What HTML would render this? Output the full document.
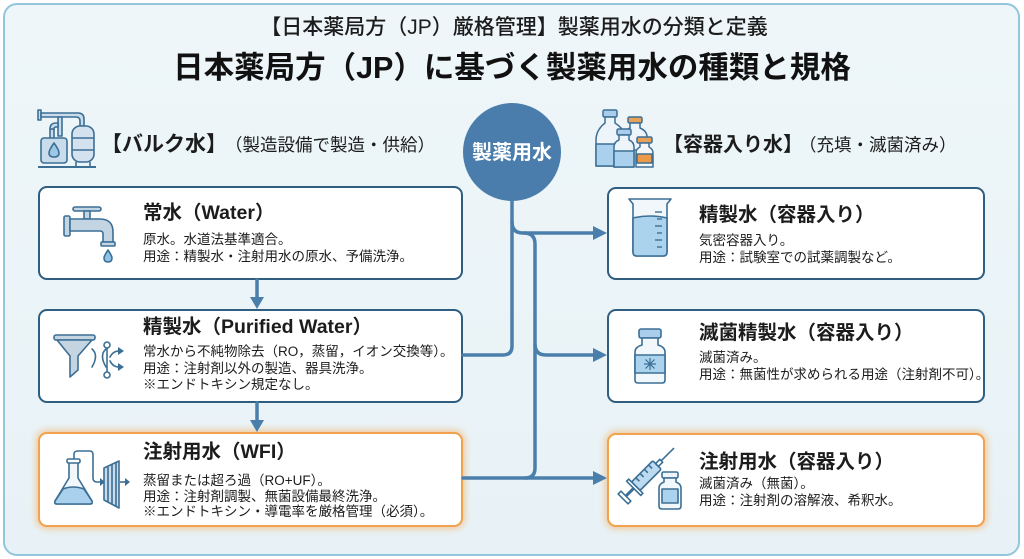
<!DOCTYPE html>
<html lang="ja">
<head>
<meta charset="utf-8">
<style>
  html,body{margin:0;padding:0;}
  body{width:1024px;height:559px;position:relative;overflow:hidden;background:#ffffff;
       font-family:"Liberation Sans","Noto Sans CJK JP",sans-serif;color:#1c1c1c;}
  .panel{position:absolute;left:3px;top:3px;width:1013px;height:549px;border:2.5px solid #93c5dc;border-radius:14px;
         background:linear-gradient(180deg,#eef6f9 0%,#e8f2f6 100%);}
  .box{position:absolute;background:#ffffff;border:2px solid #2f5e80;border-radius:9px;box-sizing:border-box;}
  .box.or{border:2.5px solid #f0a24e;box-shadow:0 0 7px 2px rgba(246,166,80,0.55);}
  .t{position:absolute;white-space:nowrap;}
  .title{font-size:19.5px;font-weight:700;line-height:24px;}
  .body{font-size:13.5px;line-height:16.5px;}
</style>
</head>
<body>
<div class="panel"></div>

<!-- boxes -->
<div class="box" style="left:38px;top:186px;width:425px;height:94px;"></div>
<div class="box" style="left:38px;top:309px;width:425px;height:94px;"></div>
<div class="box or" style="left:38px;top:432px;width:425px;height:95px;"></div>
<div class="box" style="left:607px;top:187px;width:378px;height:93px;"></div>
<div class="box" style="left:607px;top:309px;width:378px;height:94px;"></div>
<div class="box or" style="left:607px;top:433px;width:378px;height:94px;"></div>

<svg width="1024" height="559" style="position:absolute;left:0;top:0;" xmlns="http://www.w3.org/2000/svg">
  <!-- circle -->
  <circle cx="512" cy="152" r="49" fill="#4a7dab"/>
  <!-- connectors -->
  <g stroke="#4b7fab" stroke-width="3.5" fill="none" stroke-linecap="round">
    <path d="M512 198 L512 346 Q512 355 503 355 L463 355"/>
    <path d="M512 222 Q512 233 523 233 L596 233"/>
    <path d="M524 233 Q535 233 535 244 L535 468 Q535 478 525 478"/>
    <path d="M463 478 L596 478"/>
    <path d="M535 344 Q535 355 546 355 L596 355"/>
    <path d="M257 280 L257 298"/>
    <path d="M257 403 L257 421"/>
  </g>
  <g fill="#4b7fab">
    <polygon points="593,226 607,233 593,240"/>
    <polygon points="593,348 607,355 593,362"/>
    <polygon points="593,471 607,478 593,485"/>
    <polygon points="250,297 264,297 257,309"/>
    <polygon points="250,420 264,420 257,432"/>
  </g>

  <!-- bulk icon -->
  <g stroke="#3c6f95" stroke-width="1.6" fill="#c9dceb" stroke-linejoin="round">
    <rect x="38" y="110" width="3" height="10" fill="#c9dceb"/>
    <path d="M41 113 L78 113 Q84 113 84 119 L84 126 L80 126 L80 121 Q80 117 76 117 L41 117 Z"/>
    <path d="M58 117 L62 117 L62 136 L58 136 Z"/>
    <path d="M50 129 L54 129 L54 140 L50 140 Z"/>
    <path d="M50 129 Q50 123 56 123 L58 123 L58 127 L56 127 Q54 127 54 129 Z"/>
    <rect x="41" y="138" width="26" height="25" rx="3"/>
    <rect x="72" y="126" width="22" height="36" rx="8" fill="#d3e2ee"/>
    <line x1="72" y1="138" x2="94" y2="138"/>
    <line x1="72" y1="150" x2="94" y2="150"/>
    <line x1="76" y1="162" x2="76" y2="167"/>
    <line x1="90" y1="162" x2="90" y2="167"/>
    <line x1="38" y1="167" x2="96" y2="167" stroke-width="2"/>
    <path d="M54 143 Q49 150 49 153 Q49 157 54 157 Q59 157 59 153 Q59 150 54 143 Z" fill="#9cc8e6"/>
  </g>

  <!-- bottles icon -->
  <g stroke="#3c6f95" stroke-width="1.5" stroke-linejoin="round">
    <!-- back bottle with orange cap -->
    <rect x="628" y="117" width="14" height="6" rx="1.5" fill="#e9a15a"/>
    <path d="M630 123 L640 123 L640 128 Q647 131 647 137 L647 150 L623 150 L623 137 Q623 131 630 128 Z" fill="#eef5fa"/>
    <!-- big bottle -->
    <rect x="603" y="110" width="14" height="7" rx="1.5" fill="#a9cdea"/>
    <path d="M605 117 L615 117 L615 123 Q626 130 626 140 L626 166 L596 166 L596 140 Q596 130 605 123 Z" fill="#eef5fa"/>
    <path d="M596 144 L626 144 L626 166 L596 166 Z" fill="#a9d0ec"/>
    <!-- small front vial -->
    <rect x="617" y="129" width="14" height="6" rx="1.5" fill="#a9cdea"/>
    <path d="M619 135 L629 135 L629 140 Q634 142 634 147 L634 167 L614 167 L614 147 Q614 142 619 140 Z" fill="#eef5fa"/>
    <path d="M614 151 L634 151 L634 167 L614 167 Z" fill="#a9d0ec"/>
    <!-- orange vial -->
    <rect x="637" y="137" width="15" height="6" rx="1.5" fill="#e9a15a"/>
    <path d="M640 143 L649 143 L649 147 Q653 149 653 153 L653 167 L636 167 L636 153 Q636 149 640 147 Z" fill="#f4f6f8"/>
    <rect x="637" y="154" width="15" height="9" fill="#ec9a4a"/>
  </g>

  <!-- faucet -->
  <g stroke="#3c6f95" stroke-width="1.6" fill="#c3d4e2" stroke-linejoin="round">
    <rect x="73" y="207" width="28" height="4" rx="2"/>
    <rect x="84" y="211" width="6" height="8"/>
    <rect x="64" y="216" width="6" height="20" rx="1.5"/>
    <path d="M70 219 L100 219 Q113 219 113 232 L113 242 L103 242 L103 234 Q103 231 100 231 L70 231 Z"/>
    <rect x="101" y="242" width="14" height="4" rx="1"/>
    <path d="M108 250 Q104 256 104 258 Q104 262 108 262 Q112 262 112 258 Q112 256 108 250 Z" fill="#8fc2e6"/>
  </g>

  <!-- funnel + filter symbol -->
  <g stroke="#3c6f95" stroke-width="1.6" fill="#c5d4e1" stroke-linejoin="round">
    <rect x="54" y="335" width="41" height="5" rx="2"/>
    <path d="M57 340 L92 340 L78 356 L78 370 L70 377 L70 356 Z"/>
  </g>
  <g stroke="#3c6f95" stroke-width="1.6" fill="none" stroke-linecap="round">
    <path d="M92 349 Q99 355 92 367"/>
    <path d="M106 349 Q99 355 106 367"/>
    <line x1="107" y1="345" x2="107" y2="373"/>
    <circle cx="107" cy="345" r="3" fill="#fff"/>
    <circle cx="107" cy="375" r="3" fill="#fff"/>
    <path d="M110 357 Q113 351 119 351"/>
    <path d="M110 361 Q113 367 119 367"/>
  </g>
  <g fill="#3c6f95">
    <polygon points="118,347 124,351 118,355"/>
    <polygon points="118,363 124,367 118,371"/>
  </g>

  <!-- flask + filter -->
  <g stroke="#3c6f95" stroke-width="1.6" stroke-linejoin="round">
    <path d="M69 462 L78 462 L78 478 L92 501 Q93 504 90 504 L57 504 Q54 504 55 501 L69 478 Z" fill="#f2f7fb"/>
    <path d="M63 489 Q73 485 84 489 L92 501 Q93 504 90 504 L57 504 Q54 504 55 501 Z" fill="#a9d0ec"/>
    <rect x="67" y="459" width="13" height="4" rx="1.5" fill="#fff"/>
    <path d="M74 459 L74 454 Q74 451 78 451 L90 451 Q93 451 93 455 L93 478 Q93 482 97 482 L101 482" fill="none"/>
    <path d="M104 468 L119 461 L119 508 L104 500 Z" fill="#c9dced"/>
    <line x1="108" y1="467" x2="108" y2="502"/>
    <line x1="112" y1="465" x2="112" y2="504"/>
    <line x1="116" y1="463" x2="116" y2="506"/>
    <line x1="120" y1="482" x2="126" y2="482"/>
  </g>
  <g fill="#3c6f95">
    <polygon points="100,478 105,482 100,486"/>
    <polygon points="125,478 130,482 125,486"/>
  </g>

  <!-- beaker -->
  <g stroke="#3c6f95" stroke-width="1.6" stroke-linejoin="round">
    <path d="M629 199 L671 199 L667 204 L667 252 Q667 256 663 256 L637 256 Q633 256 633 252 L633 204 Z" fill="#f2f7fb"/>
    <path d="M633 218 Q650 214 667 218 L667 252 Q667 256 663 256 L637 256 Q633 256 633 252 Z" fill="#acd3ee"/>
    <g stroke-width="1.4">
      <line x1="655" y1="212" x2="662" y2="212"/>
      <line x1="657" y1="219" x2="662" y2="219"/>
      <line x1="655" y1="226" x2="662" y2="226"/>
      <line x1="657" y1="233" x2="662" y2="233"/>
      <line x1="655" y1="240" x2="662" y2="240"/>
      <line x1="657" y1="247" x2="662" y2="247"/>
    </g>
  </g>

  <!-- vial sterile -->
  <g stroke="#3c6f95" stroke-width="1.6" stroke-linejoin="round">
    <rect x="639" y="329" width="22" height="9" rx="2" fill="#a9cdea"/>
    <path d="M642 338 L658 338 L658 345 Q665 347 665 352 L665 380 Q665 383 662 383 L638 383 Q635 383 635 380 L635 352 Q635 347 642 345 Z" fill="#f2f7fb"/>
    <rect x="635" y="355" width="30" height="18" fill="#acd3ee"/>
    <g stroke-width="1.2">
      <line x1="650" y1="358" x2="650" y2="370"/>
      <line x1="644" y1="364" x2="656" y2="364"/>
      <line x1="645.5" y1="359.5" x2="654.5" y2="368.5"/>
      <line x1="654.5" y1="359.5" x2="645.5" y2="368.5"/>
    </g>
  </g>

  <!-- syringe + vial -->
  <g stroke="#3c6f95" stroke-width="1.6" stroke-linejoin="round">
    <g transform="rotate(-45 645 477)">
      <rect x="632" y="471" width="30" height="12" rx="1.5" fill="#bcdaf0"/>
      <rect x="662" y="475" width="6" height="4" fill="#fff"/>
      <line x1="668" y1="477" x2="686" y2="477"/>
      <rect x="629" y="467" width="3" height="20" fill="#fff"/>
      <line x1="618" y1="477" x2="629" y2="477" stroke-width="3"/>
      <rect x="614" y="470" width="4" height="14" fill="#fff"/>
      <line x1="638" y1="471" x2="638" y2="476"/>
      <line x1="644" y1="471" x2="644" y2="476"/>
      <line x1="650" y1="471" x2="650" y2="476"/>
      <line x1="656" y1="471" x2="656" y2="476"/>
    </g>
    <rect x="662" y="472" width="16" height="6" rx="1.5" fill="#eef5fa"/>
    <path d="M664 478 L676 478 L676 482 Q681 484 681 488 L681 506 Q681 509 678 509 L662 509 Q659 509 659 506 L659 488 Q659 484 664 482 Z" fill="#f2f7fb"/>
    <rect x="662" y="489" width="16" height="14" fill="#acd3ee"/>
  </g>
</svg>

<!-- titles -->
<div class="t" style="left:0;width:1028px;text-align:center;top:15px;font-size:21px;font-weight:500;line-height:26px;">【日本薬局方（JP）厳格管理】製薬用水の分類と定義</div>
<div class="t" style="left:0;width:1024px;text-align:center;top:49px;font-size:30.5px;font-weight:700;line-height:38px;color:#111;">日本薬局方（JP）に基づく製薬用水の種類と規格</div>

<!-- headers -->
<div class="t" style="left:101px;top:132px;font-size:21px;font-weight:700;line-height:26px;">【バルク水】</div>
<div class="t" style="left:225px;top:134px;font-size:17.5px;line-height:22px;">（製造設備で製造・供給）</div>
<div class="t" style="left:663px;top:133px;font-size:20px;font-weight:700;line-height:24px;">【容器入り水】</div>
<div class="t" style="left:799px;top:134px;font-size:17.5px;line-height:22px;">（充填・滅菌済み）</div>
<div class="t" style="left:462px;width:100px;text-align:center;top:140px;font-size:20px;font-weight:700;line-height:26px;color:#fff;">製薬用水</div>

<!-- left box text -->
<div class="t title" style="left:143px;top:201px;">常水（Water）</div>
<div class="t body" style="left:143px;top:231px;line-height:17px;">原水。水道法基準適合。<br>用途：精製水・注射用水の原水、予備洗浄。</div>

<div class="t title" style="left:143px;top:315px;">精製水（Purified Water）</div>
<div class="t body" style="left:143px;top:344px;">常水から不純物除去（RO，蒸留，イオン交換等）。<br>用途：注射剤以外の製造、器具洗浄。<br>※エンドトキシン規定なし。</div>

<div class="t title" style="left:143px;top:440px;">注射用水（WFI）</div>
<div class="t body" style="left:143px;top:473px;line-height:15.5px;">蒸留または超ろ過（RO+UF）。<br>用途：注射剤調製、無菌設備最終洗浄。<br>※エンドトキシン・導電率を厳格管理（必須）。</div>

<!-- right box text -->
<div class="t title" style="left:699px;top:203px;">精製水（容器入り）</div>
<div class="t body" style="left:699px;top:233px;">気密容器入り。<br>用途：試験室での試薬調製など。</div>

<div class="t title" style="left:699px;top:321px;">滅菌精製水（容器入り）</div>
<div class="t body" style="left:699px;top:350px;">滅菌済み。<br>用途：無菌性が求められる用途（注射剤不可）。</div>

<div class="t title" style="left:699px;top:450px;">注射用水（容器入り）</div>
<div class="t body" style="left:699px;top:476px;">滅菌済み（無菌）。<br>用途：注射剤の溶解液、希釈水。</div>
</body>
</html>
